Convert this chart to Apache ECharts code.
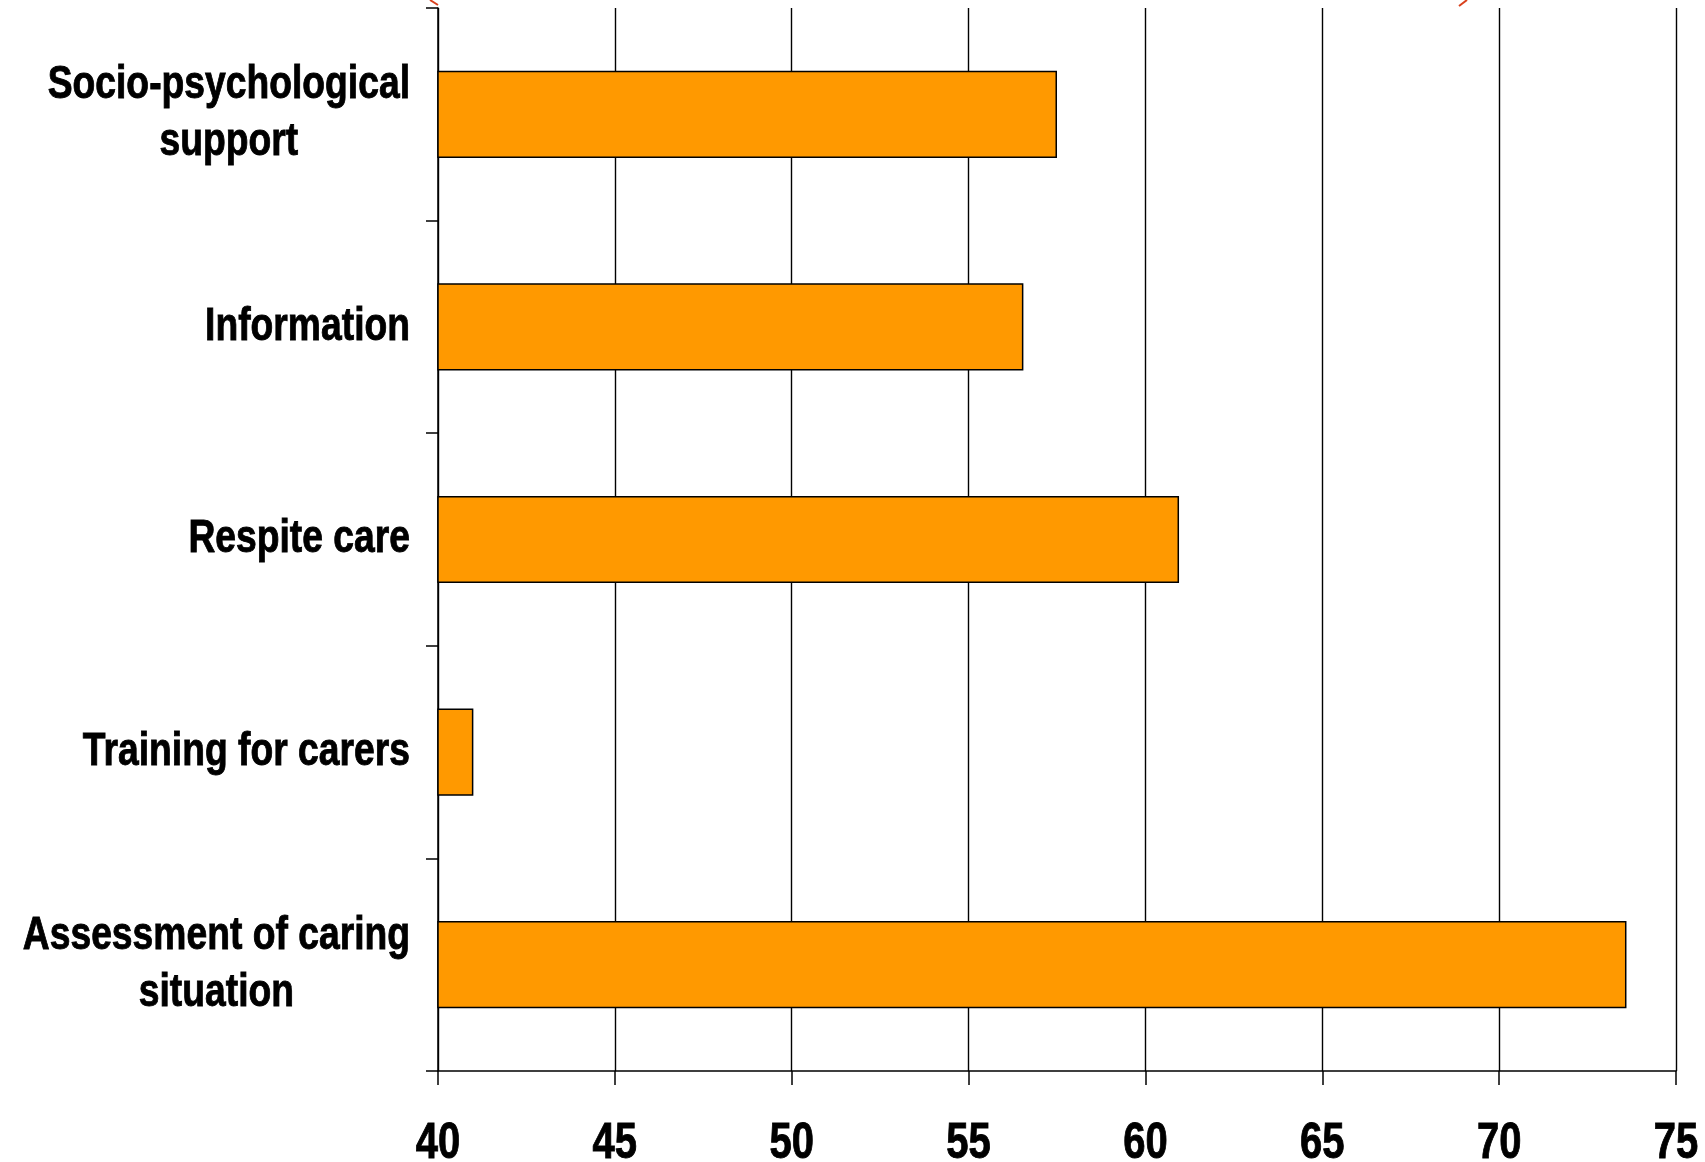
<!DOCTYPE html>
<html>
<head>
<meta charset="utf-8">
<style>
  html, body { margin: 0; padding: 0; background: #fff; }
  #chart { width: 1705px; height: 1162px; }
</style>
<script src="https://cdn.jsdelivr.net/npm/echarts@6/dist/echarts.min.js"></script>
</head>
<body>
<div id="chart"></div>
<script>
// Support types, listed bottom to top as the category axis draws them
const categories = [
  'Assessment of caring\nsituation',
  'Training for carers',
  'Respite care',
  'Information',
  'Socio-psychological\nsupport'
];
const values = [73.6, 41.0, 60.95, 56.55, 57.5];

const xMin = 40;
const xMax = 75;
const xStep = 5;
const xTicks = [40, 45, 50, 55, 60, 65, 70, 75];

const FONT = '"Liberation Sans", Arial, sans-serif';
const NARROW = 0.81; // horizontal squeeze for the condensed bold lettering

const chart = echarts.init(document.getElementById('chart'), null, { renderer: 'canvas' });

chart.setOption({
  backgroundColor: '#ffffff',
  animation: false,
  grid: { left: 438, right: 29, top: 8, bottom: 91, containLabel: false, outerBoundsMode: 'none' },
  xAxis: {
    type: 'value',
    min: xMin,
    max: xMax,
    interval: xStep,
    axisLine: { show: true, lineStyle: { color: '#000', width: 1.5 } },
    axisTick: { show: true, inside: false, length: 14, lineStyle: { color: '#000', width: 1.5 } },
    splitLine: { show: true, lineStyle: { color: '#000', width: 1.4 } },
    axisLabel: { show: false }
  },
  yAxis: {
    type: 'category',
    data: categories,
    boundaryGap: true,
    axisLine: { show: true, lineStyle: { color: '#000', width: 1.5 } },
    axisTick: { show: true, inside: false, length: 12, alignWithLabel: false, lineStyle: { color: '#000', width: 1.5 } },
    splitLine: { show: false },
    axisLabel: { show: false }
  },
  series: [{
    type: 'bar',
    data: values,
    barWidth: '41%',
    itemStyle: { color: '#FF9900', borderColor: '#000', borderWidth: 1.5 },
    clip: true
  }]
});

// Axis labels in condensed bold type, placed from the axes' own scales
const axisLeft = chart.convertToPixel({ xAxisIndex: 0 }, xMin);
const labels = [];

categories.forEach((name, i) => {
  const y = chart.convertToPixel({ yAxisIndex: 0 }, i);
  labels.push({
    type: 'text',
    x: axisLeft - 28,
    y: y,
    scaleX: NARROW,
    silent: true,
    style: {
      text: name.split('\n').map(line => '{c|' + line + '}').join('\n'),
      align: 'right',
      verticalAlign: 'middle',
      fill: '#000',
      rich: {
        c: {
          align: 'center',
          fill: '#000',
          stroke: '#000',
          lineWidth: 0.9,
          fontFamily: FONT,
          fontWeight: 'bold',
          fontSize: 46,
          lineHeight: 57
        }
      }
    }
  });
});

const gridRect = chart.getModel().getComponent('grid', 0).coordinateSystem.getRect();
const axisY = gridRect.y + gridRect.height;

xTicks.forEach((v) => {
  labels.push({
    type: 'text',
    x: chart.convertToPixel({ xAxisIndex: 0 }, v),
    y: axisY + 73,
    scaleX: 0.8,
    silent: true,
    style: {
      text: String(v),
      align: 'center',
      verticalAlign: 'middle',
      fill: '#000',
      stroke: '#000',
      lineWidth: 0.9,
      fontFamily: FONT,
      fontWeight: 'bold',
      fontSize: 50
    }
  });
});

// Lower corners of the red outline that sits above the plot
labels.push(
  { type: 'line', silent: true, shape: { x1: 430, y1: 0, x2: 438, y2: 5 }, style: { stroke: '#D9401C', lineWidth: 2 } },
  { type: 'line', silent: true, shape: { x1: 1467, y1: 0, x2: 1459, y2: 6 }, style: { stroke: '#D9401C', lineWidth: 2 } }
);

chart.setOption({ graphic: labels });
</script>
</body>
</html>
